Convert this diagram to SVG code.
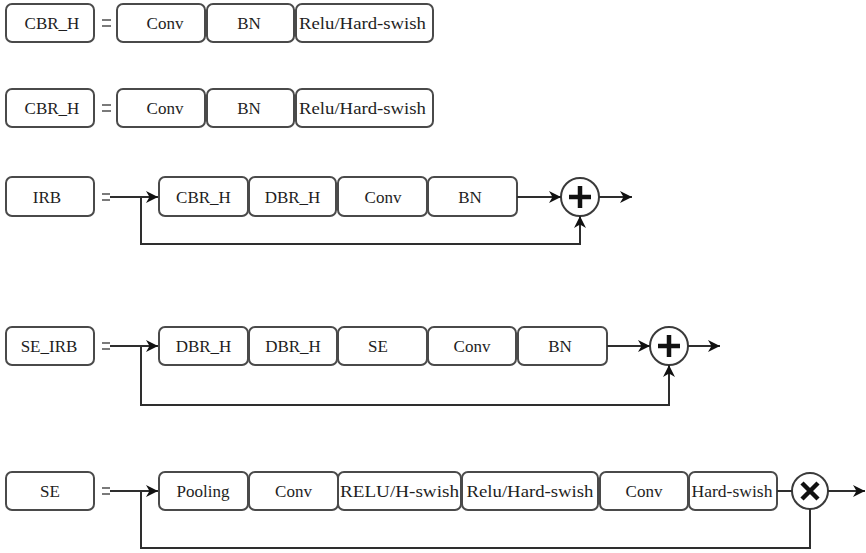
<svg xmlns="http://www.w3.org/2000/svg" width="866" height="553" viewBox="0 0 866 553">
  <style>
    .box { fill: #ffffff; stroke: #4a4a4a; stroke-width: 2; }
    .lbl { font-family: 'Liberation Serif', 'Times New Roman', 'DejaVu Serif', serif; font-size: 17px; fill: #1e1e1e; text-anchor: middle; }
    .wire { fill: none; stroke: #2e2e2e; stroke-width: 2; }
    .eq { stroke: #7a7a7a; stroke-width: 2; }
    .op { fill: #ffffff; stroke: #3a3a3a; stroke-width: 2; }
    .sym { stroke: #111111; stroke-width: 4.5; stroke-linecap: butt; fill: none; }
  </style>
  <defs>
    <marker id="arrow" viewBox="0 0 12 12" refX="12" refY="6" markerWidth="12" markerHeight="12" markerUnits="userSpaceOnUse" orient="auto">
      <path d="M0,0 L12,6 L0,12 L3.5,6 Z" fill="#111111"/>
    </marker>
  </defs>

  <g font-family="Liberation Serif, serif">
  <!-- Row 1: CBR_H definition -->
  <g id="row1-cbr_h">
    <rect class="box" x="6" y="4" width="88" height="38" rx="6"/>
    <text class="lbl" x="52" y="29">CBR_H</text>
  </g>
  <g id="row1-eq">
    <line class="eq" x1="102" y1="20" x2="111" y2="20"/>
    <line class="eq" x1="102" y1="26" x2="111" y2="26"/>
  </g>
  <g id="row1-conv">
    <rect class="box" x="117" y="4" width="88" height="38" rx="6"/>
    <text class="lbl" x="165" y="29">Conv</text>
  </g>
  <g id="row1-bn">
    <rect class="box" x="207" y="4" width="87" height="38" rx="6"/>
    <text class="lbl" x="249" y="29">BN</text>
  </g>
  <g id="row1-act">
    <rect class="box" x="296" y="4" width="137" height="38" rx="6"/>
    <text class="lbl" x="362.5" y="29" textLength="127" lengthAdjust="spacingAndGlyphs">Relu/Hard-swish</text>
  </g>

  <!-- Row 2: CBR_H definition -->
  <g id="row2-cbr_h">
    <rect class="box" x="6" y="89" width="88" height="38" rx="6"/>
    <text class="lbl" x="52" y="114">CBR_H</text>
  </g>
  <g id="row2-eq">
    <line class="eq" x1="102" y1="105" x2="111" y2="105"/>
    <line class="eq" x1="102" y1="111" x2="111" y2="111"/>
  </g>
  <g id="row2-conv">
    <rect class="box" x="117" y="89" width="88" height="38" rx="6"/>
    <text class="lbl" x="165" y="114">Conv</text>
  </g>
  <g id="row2-bn">
    <rect class="box" x="207" y="89" width="87" height="38" rx="6"/>
    <text class="lbl" x="249" y="114">BN</text>
  </g>
  <g id="row2-act">
    <rect class="box" x="296" y="89" width="137" height="38" rx="6"/>
    <text class="lbl" x="362.5" y="114" textLength="127" lengthAdjust="spacingAndGlyphs">Relu/Hard-swish</text>
  </g>

  <!-- Row 3: IRB -->
  <g id="row3-irb">
    <rect class="box" x="6" y="177" width="88" height="39" rx="6"/>
    <text class="lbl" x="47" y="203">IRB</text>
  </g>
  <g id="row3-eq">
    <line class="eq" x1="102" y1="194" x2="110" y2="194"/>
    <line class="eq" x1="102" y1="200" x2="110" y2="200"/>
  </g>
  <g id="row3-cbr_h">
    <rect class="box" x="159" y="177" width="89" height="39" rx="6"/>
    <text class="lbl" x="203.5" y="203">CBR_H</text>
  </g>
  <g id="row3-dbr_h">
    <rect class="box" x="249" y="177" width="87" height="39" rx="6"/>
    <text class="lbl" x="292.5" y="203">DBR_H</text>
  </g>
  <g id="row3-conv">
    <rect class="box" x="338" y="177" width="89" height="39" rx="6"/>
    <text class="lbl" x="383" y="203">Conv</text>
  </g>
  <g id="row3-bn">
    <rect class="box" x="428" y="177" width="89" height="39" rx="6"/>
    <text class="lbl" x="470" y="203">BN</text>
  </g>
  <g id="row3-add">
    <circle class="op" cx="580" cy="197" r="19"/>
    <path class="sym" d="M569,197 H591 M580,186 V208"/>
  </g>

  <!-- Row 4: SE_IRB -->
  <g id="row4-se_irb">
    <rect class="box" x="6" y="327" width="88" height="38" rx="6"/>
    <text class="lbl" x="49" y="352">SE_IRB</text>
  </g>
  <g id="row4-eq">
    <line class="eq" x1="102" y1="343" x2="110" y2="343"/>
    <line class="eq" x1="102" y1="349" x2="110" y2="349"/>
  </g>
  <g id="row4-dbr_h-1">
    <rect class="box" x="159" y="327" width="89" height="38" rx="6"/>
    <text class="lbl" x="203.5" y="352">DBR_H</text>
  </g>
  <g id="row4-dbr_h-2">
    <rect class="box" x="249" y="327" width="88" height="38" rx="6"/>
    <text class="lbl" x="293" y="352">DBR_H</text>
  </g>
  <g id="row4-se">
    <rect class="box" x="338" y="327" width="89" height="38" rx="6"/>
    <text class="lbl" x="378" y="352">SE</text>
  </g>
  <g id="row4-conv">
    <rect class="box" x="428" y="327" width="88" height="38" rx="6"/>
    <text class="lbl" x="472" y="352">Conv</text>
  </g>
  <g id="row4-bn">
    <rect class="box" x="518" y="327" width="89" height="38" rx="6"/>
    <text class="lbl" x="560" y="352">BN</text>
  </g>
  <g id="row4-add">
    <circle class="op" cx="669" cy="346" r="19"/>
    <path class="sym" d="M658,346 H680 M669,335 V357"/>
  </g>

  <!-- Row 5: SE -->
  <g id="row5-se">
    <rect class="box" x="6" y="472" width="88" height="38" rx="6"/>
    <text class="lbl" x="50" y="497">SE</text>
  </g>
  <g id="row5-eq">
    <line class="eq" x1="102" y1="488" x2="110" y2="488"/>
    <line class="eq" x1="102" y1="494" x2="110" y2="494"/>
  </g>
  <g id="row5-pooling">
    <rect class="box" x="159" y="472" width="89" height="38" rx="6"/>
    <text class="lbl" x="203" y="497">Pooling</text>
  </g>
  <g id="row5-conv-1">
    <rect class="box" x="249" y="472" width="89" height="38" rx="6"/>
    <text class="lbl" x="293.5" y="497">Conv</text>
  </g>
  <g id="row5-relu-hswish">
    <rect class="box" x="338" y="472" width="123" height="38" rx="6"/>
    <text class="lbl" x="399.5" y="497" textLength="119" lengthAdjust="spacingAndGlyphs">RELU/H-swish</text>
  </g>
  <g id="row5-act">
    <rect class="box" x="462" y="472" width="136" height="38" rx="6"/>
    <text class="lbl" x="530" y="497" textLength="127" lengthAdjust="spacingAndGlyphs">Relu/Hard-swish</text>
  </g>
  <g id="row5-conv-2">
    <rect class="box" x="600" y="472" width="88" height="38" rx="6"/>
    <text class="lbl" x="644" y="497">Conv</text>
  </g>
  <g id="row5-hswish">
    <rect class="box" x="689" y="472" width="88" height="38" rx="6"/>
    <text class="lbl" x="732" y="497" textLength="81" lengthAdjust="spacingAndGlyphs">Hard-swish</text>
  </g>
  <g id="row5-mul">
    <circle class="op" cx="810" cy="491" r="18"/>
    <path class="sym" d="M802,483 L818,499 M818,483 L802,499"/>
  </g>
  </g>

  <!-- Connectors -->
  <g id="connectors">
    <path class="wire" d="M110,197 H158" marker-end="url(#arrow)"/>
    <path class="wire" d="M517,197 H561" marker-end="url(#arrow)"/>
    <path class="wire" d="M599,197 H632" marker-end="url(#arrow)"/>
    <path class="wire" d="M141,197 V244 H580 V216" marker-end="url(#arrow)"/>

    <path class="wire" d="M110,346 H158" marker-end="url(#arrow)"/>
    <path class="wire" d="M607,346 H650" marker-end="url(#arrow)"/>
    <path class="wire" d="M688,346 H720" marker-end="url(#arrow)"/>
    <path class="wire" d="M141,346 V405 H669 V365" marker-end="url(#arrow)"/>

    <path class="wire" d="M110,491 H158" marker-end="url(#arrow)"/>
    <path class="wire" d="M777,491 H792"/>
    <path class="wire" d="M828,491 H865" marker-end="url(#arrow)"/>
    <path class="wire" d="M810,509 V548 H141 V491"/>
  </g>
</svg>
